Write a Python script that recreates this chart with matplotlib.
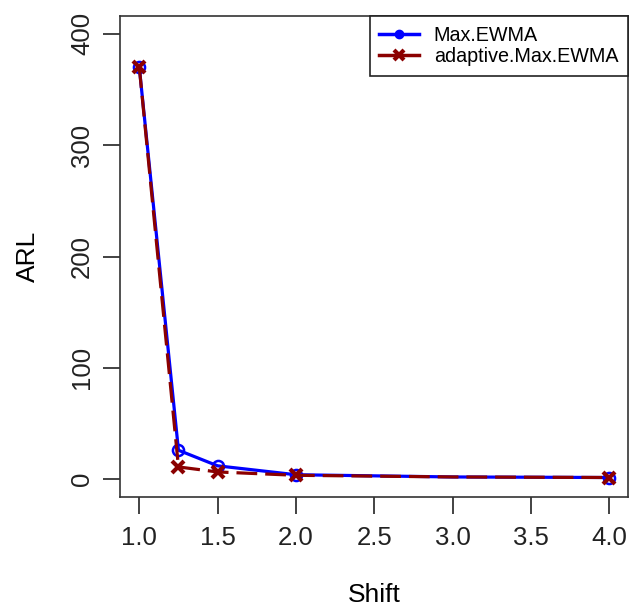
import matplotlib
matplotlib.use("Agg")
import matplotlib.pyplot as plt
from matplotlib.lines import Line2D

plt.rcParams['font.family'] = ['Liberation Sans', 'DejaVu Sans']

shift = [1.0, 1.25, 1.5, 2.0, 3.0, 4.0]
max_ewma = [370, 26, 12, 4, 2, 1.5]
adaptive_max_ewma = [370, 11, 6.5, 3.5, 2, 1.5]
xticks = [1.0, 1.5, 2.0, 2.5, 3.0, 3.5, 4.0]
xticklabels = ["1.0", "1.5", "2.0", "2.5", "3.0", "3.5", "4.0"]
yticks = [0, 100, 200, 300, 400]
series_names = ["Max.EWMA", "adaptive.Max.EWMA"]

blue = "#0000FF"
red = "#8B0000"

fig = plt.figure(figsize=(6.29, 6.06), dpi=100)
ax = fig.add_axes([120.5/629, 1-497/606, (628-120.5)/629, (497-16)/606])

mark_idx = [0, 1, 2, 3, 5]
ax.plot(shift, max_ewma, color=blue, lw=2.3, marker='o', markersize=8,
        markerfacecolor='none', markeredgewidth=1.8, markevery=mark_idx, zorder=2)
ax.plot(shift, adaptive_max_ewma, color=red, lw=2.3, ls=(0, (6.5, 2.5)), marker='x',
        markersize=9, markeredgewidth=3, markevery=mark_idx, zorder=3)

ax.set_xlim(0.88, 4.12)
ax.set_ylim(-16, 416)
ax.set_xticks(xticks)
ax.set_xticklabels(xticklabels)
ax.set_yticks(yticks)
ax.set_yticklabels([str(v) for v in yticks], rotation=90, va='center')
ax.tick_params(axis='both', direction='out', length=12, width=1.2, labelsize=18.5,
               colors='#222222')
ax.tick_params(axis='x', pad=9)
ax.tick_params(axis='y', pad=7)
for s in ax.spines.values():
    s.set_linewidth(1.2)
    s.set_color('#333333')

ax.set_xlabel("Shift", fontsize=19, labelpad=24)
ax.set_ylabel("ARL", fontsize=19, labelpad=22)

handles = [
    Line2D([0], [0], color=blue, lw=2.5, marker='o', markersize=6),
    Line2D([0], [0], color=red, lw=2.5, marker='x', markersize=7, markeredgewidth=3),
]
leg = ax.legend(handles, series_names, loc='upper right', bbox_to_anchor=(1.0, 1.0),
                borderaxespad=0, fontsize=14.2, fancybox=False, framealpha=1,
                edgecolor='#222222', handlelength=2.0, handletextpad=0.75,
                labelspacing=0.12, borderpad=0.5)
leg.get_frame().set_linewidth(1.2)

fig.savefig("out.png", dpi=100)
